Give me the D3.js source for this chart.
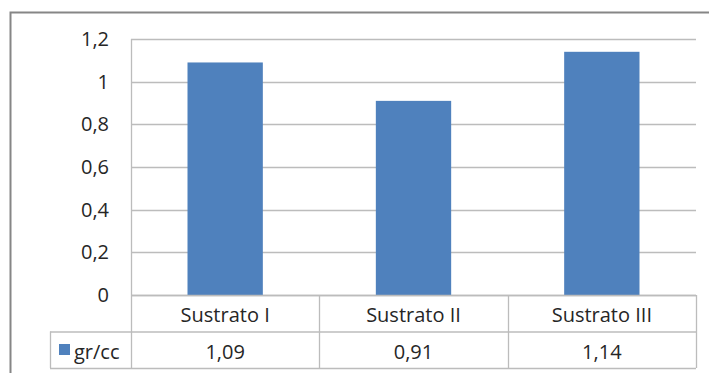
<!DOCTYPE html>
<html>
<head>
<meta charset="utf-8">
<script src="https://cdn.jsdelivr.net/npm/d3@7"></script>
<style>
  html, body { margin: 0; padding: 0; background: #fff; }
  svg { display: block; }
  text { font-family: "Open Sans", Lato, sans-serif; fill: #262626; }
</style>
</head>
<body>
<svg id="chart" width="709" height="373"></svg>
<script>
// Densidad aparente por sustrato
const categories = ["Sustrato I", "Sustrato II", "Sustrato III"];
const values = [1.09, 0.91, 1.14];
const seriesName = "gr/cc";
const yTicks = [0, 0.2, 0.4, 0.6, 0.8, 1, 1.2];
const valueLabels = ["1,09", "0,91", "1,14"];

const svg = d3.select("#chart");
const W = 709, H = 373;
const plot = { left: 131, right: 696, top: 39, bottom: 295 };
const rowH = 36.5;
const legendLeft = 50;
const barColor = "#4f81bd";
const gridColor = "#bcbcbc";
const fontSize = 20;
const fmt = v => String(v).replace(".", ",");

// chart frame
svg.append("rect")
  .attr("x", 10.5).attr("y", 12.5)
  .attr("width", W).attr("height", H)
  .attr("fill", "#fff").attr("stroke", "#868686").attr("stroke-width", 2);

const x = d3.scaleBand().domain(categories)
  .range([plot.left, plot.right]).paddingInner(0.6).paddingOuter(0.3);
const xCell = d3.scaleBand().domain(categories).range([plot.left, plot.right]);
const y = d3.scaleLinear().domain([0, 1.2]).range([plot.bottom, plot.top]);

// gridlines
svg.append("g").selectAll("line").data(yTicks).join("line")
  .attr("x1", plot.left).attr("x2", plot.right)
  .attr("y1", d => Math.round(y(d)) + 0.5).attr("y2", d => Math.round(y(d)) + 0.5)
  .attr("stroke", gridColor).attr("stroke-width", 1.3);

// y axis labels
svg.append("g").selectAll("text").data(yTicks).join("text")
  .attr("x", 109).attr("y", d => y(d) + 7)
  .attr("text-anchor", "end").attr("font-size", fontSize)
  .text(fmt);

// bars
svg.append("g").selectAll("rect").data(values).join("rect")
  .attr("x", (d, i) => x(categories[i]))
  .attr("width", x.bandwidth())
  .attr("y", d => y(d))
  .attr("height", d => y(0) - y(d))
  .attr("fill", barColor);

// data table
const tbl = svg.append("g").attr("stroke", gridColor).attr("stroke-width", 1.3).attr("fill", "none");
const r0 = plot.bottom, r1 = plot.bottom + rowH, r2 = plot.bottom + 2 * rowH;
tbl.append("line").attr("x1", plot.left).attr("x2", plot.right).attr("y1", r0 + 0.5).attr("y2", r0 + 0.5);
tbl.append("line").attr("x1", legendLeft).attr("x2", plot.right).attr("y1", r1 + 0.5).attr("y2", r1 + 0.5);
tbl.append("line").attr("x1", legendLeft).attr("x2", plot.right).attr("y1", r2 + 0.5).attr("y2", r2 + 0.5);
tbl.append("line").attr("x1", legendLeft + 0.5).attr("x2", legendLeft + 0.5).attr("y1", r1).attr("y2", r2);
tbl.append("line").attr("x1", plot.left + 0.5).attr("x2", plot.left + 0.5).attr("y1", plot.top).attr("y2", r2);
categories.forEach(c => {
  const xr = Math.round(xCell(c) + xCell.bandwidth()) + 0.5;
  tbl.append("line").attr("x1", xr).attr("x2", xr).attr("y1", r0).attr("y2", r2);
});

svg.append("g").selectAll("text").data(categories).join("text")
  .attr("x", d => xCell(d) + xCell.bandwidth() / 2)
  .attr("y", r0 + 27).attr("text-anchor", "middle").attr("font-size", fontSize)
  .text(d => d);

svg.append("g").selectAll("text").data(valueLabels).join("text")
  .attr("x", (d, i) => xCell(categories[i]) + xCell.bandwidth() / 2)
  .attr("y", r1 + 27).attr("text-anchor", "middle").attr("font-size", fontSize)
  .text(d => d);

// legend key
svg.append("rect").attr("x", 59).attr("y", 344).attr("width", 11).attr("height", 11).attr("fill", barColor);
svg.append("text").attr("x", 74).attr("y", r1 + 27).attr("font-size", fontSize).text(seriesName);
</script>
</body>
</html>
